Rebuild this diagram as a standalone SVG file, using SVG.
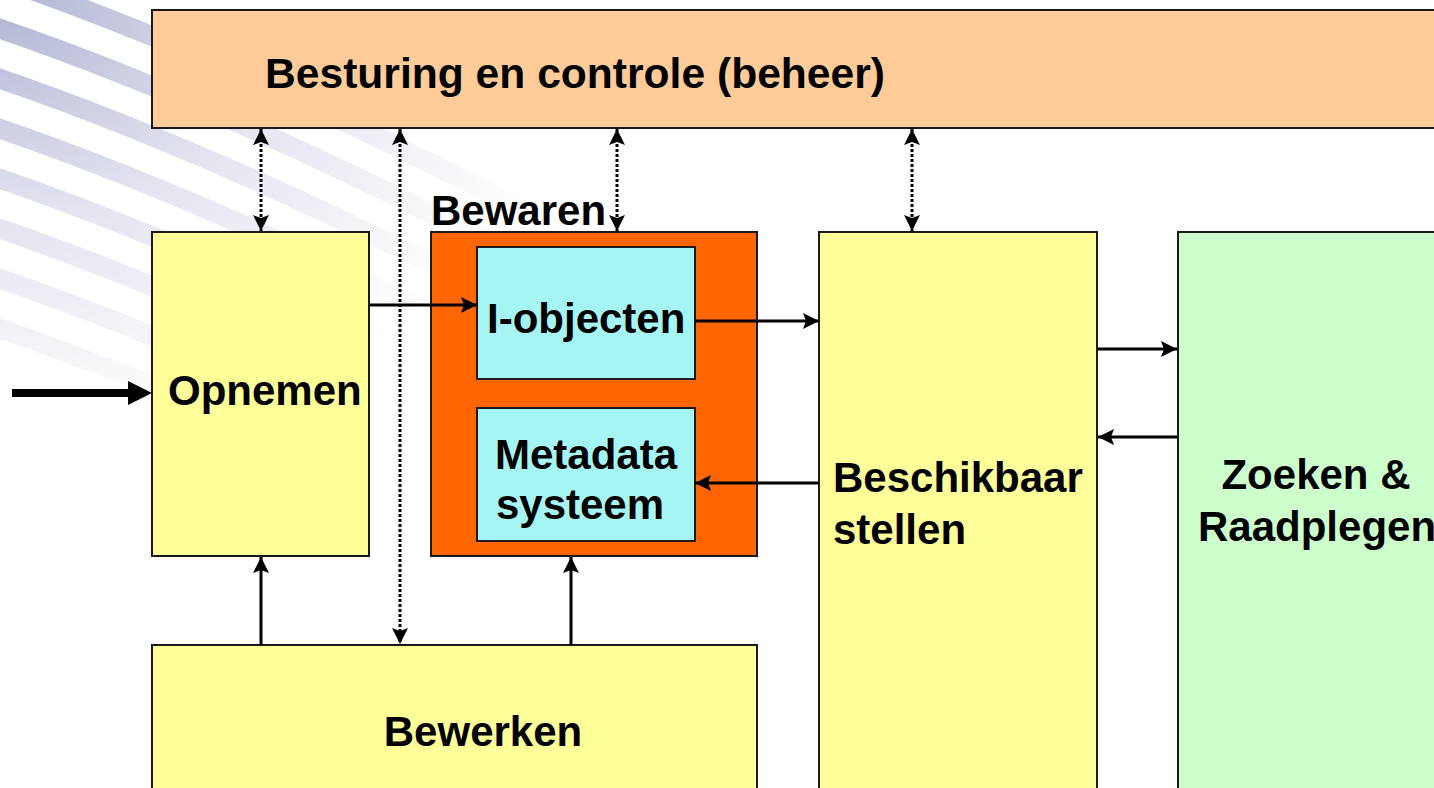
<svg xmlns="http://www.w3.org/2000/svg" width="1434" height="788" viewBox="0 0 1434 788">
<defs>
<style>
.box{stroke:#1a1a1a;stroke-width:2}
.lbl{font-family:"Liberation Sans",Arial,sans-serif;font-weight:bold;font-size:42px;fill:#000}
.ln{stroke:#000;stroke-width:3;fill:none}
.dot{stroke:#000;stroke-width:3;fill:none;stroke-dasharray:3 2}
</style>
<marker id="ah" markerUnits="userSpaceOnUse" markerWidth="18" markerHeight="18" refX="16" refY="8" orient="auto-start-reverse">
<path d="M0,0 L16,8 L0,16 L3,8 Z" fill="#000"/>
</marker>
<radialGradient id="fade" cx="0" cy="0" r="1" gradientUnits="objectBoundingBox">
<stop offset="0" stop-color="#fff" stop-opacity="0.85"/>
<stop offset="0.5" stop-color="#fff" stop-opacity="0.3"/>
<stop offset="1" stop-color="#fff" stop-opacity="0"/>
</radialGradient>
<mask id="bgm"><rect x="0" y="0" width="600" height="440" fill="url(#fade)"/></mask>
</defs>
<rect width="1434" height="788" fill="#fff"/>
<g id="background" mask="url(#bgm)" stroke="#a4a8cc" stroke-width="20" fill="none">
<path d="M-20,-28 Q250,62 600,252"/>
<path d="M-20,22 Q250,112 600,302"/>
<path d="M-20,72 Q250,162 600,352"/>
<path d="M-20,122 Q250,212 600,402"/>
<path d="M-20,172 Q250,262 600,452"/>
<path d="M-20,222 Q250,312 600,502"/>
<path d="M-20,272 Q250,362 600,552"/>
<path d="M-20,322 Q250,412 600,602"/>
</g>
<g id="n-besturing"><rect class="box" x="152" y="10" width="1290" height="118" fill="#FFCC99"/><text class="lbl" x="265" y="88" textLength="620" lengthAdjust="spacingAndGlyphs">Besturing en controle (beheer)</text></g>
<g id="n-opnemen"><rect class="box" x="152" y="232" width="217" height="324" fill="#FFFF99"/><text class="lbl" x="168" y="405">Opnemen</text></g>
<g id="n-bewaren"><rect class="box" x="431" y="232" width="326" height="324" fill="#FF6600"/><text class="lbl" x="431" y="225">Bewaren</text></g>
<g id="n-iobjecten"><rect class="box" x="477" y="247" width="218" height="132" fill="#A6F5F5"/><text class="lbl" x="487" y="333">I-objecten</text></g>
<g id="n-metadata"><rect class="box" x="477" y="408" width="218" height="133" fill="#A6F5F5"/><text class="lbl" x="586" y="469" text-anchor="middle">Metadata</text><text class="lbl" x="580" y="519" text-anchor="middle">systeem</text></g>
<g id="n-beschikbaar"><rect class="box" x="819" y="232" width="278" height="570" fill="#FFFF99"/><text class="lbl" x="833" y="492">Beschikbaar</text><text class="lbl" x="833" y="544">stellen</text></g>
<g id="n-zoeken"><rect class="box" x="1178" y="232" width="270" height="570" fill="#CCFFCC"/><text class="lbl" x="1316" y="489" text-anchor="middle">Zoeken &amp;</text><text class="lbl" x="1198" y="541">Raadplegen</text></g>
<g id="n-bewerken"><rect class="box" x="152" y="645" width="605" height="160" fill="#FFFF99"/><text class="lbl" x="483" y="746" text-anchor="middle">Bewerken</text></g>
<g id="connectors">
<line class="dot" x1="261" y1="129" x2="261" y2="231" marker-start="url(#ah)" marker-end="url(#ah)"/>
<line class="dot" x1="400" y1="129" x2="400" y2="644" marker-start="url(#ah)" marker-end="url(#ah)"/>
<line class="dot" x1="617" y1="129" x2="617" y2="231" marker-start="url(#ah)" marker-end="url(#ah)"/>
<line class="dot" x1="912" y1="129" x2="912" y2="231" marker-start="url(#ah)" marker-end="url(#ah)"/>
<line class="ln" x1="370" y1="305" x2="477" y2="305" marker-end="url(#ah)"/>
<line class="ln" x1="695" y1="321" x2="819" y2="321" marker-end="url(#ah)"/>
<line class="ln" x1="819" y1="483" x2="695" y2="483" marker-end="url(#ah)"/>
<line class="ln" x1="1098" y1="349" x2="1177" y2="349" marker-end="url(#ah)"/>
<line class="ln" x1="1177" y1="437" x2="1098" y2="437" marker-end="url(#ah)"/>
<line class="ln" x1="261" y1="645" x2="261" y2="557" marker-end="url(#ah)"/>
<line class="ln" x1="571" y1="645" x2="571" y2="557" marker-end="url(#ah)"/>
<line x1="12" y1="393" x2="132" y2="393" stroke="#000" stroke-width="8"/>
<path d="M128,381 L152,393 L128,405 Z" fill="#000"/>
</g>
</svg>
